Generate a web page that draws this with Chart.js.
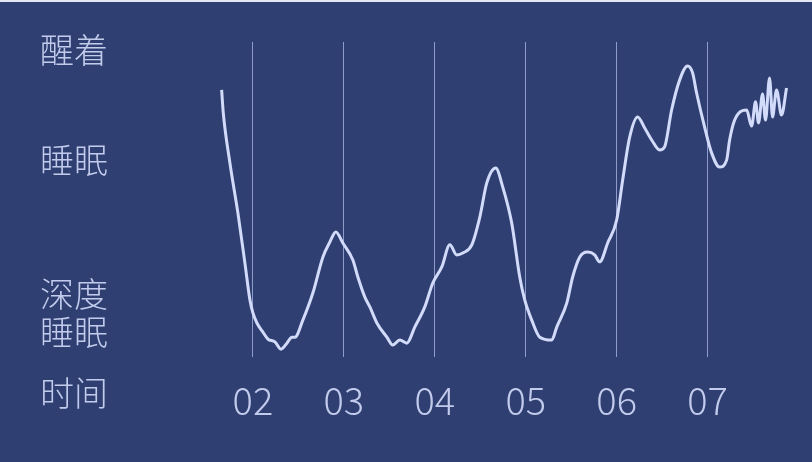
<!DOCTYPE html>
<html>
<head>
<meta charset="utf-8">
<script src="https://cdn.jsdelivr.net/npm/chart.js@4.4.1/dist/chart.umd.min.js"></script>
<style>
  html, body { margin: 0; padding: 0; background: #2f3f72; }
  #wrap { position: relative; width: 812px; height: 462px; }
  #strip { position: absolute; left: 0; top: 0; width: 812px; height: 2px; background: #e4e8f2; }
</style>
</head>
<body>
<div id="wrap">
  <canvas id="sleepChart" width="812" height="462"></canvas>
  <div id="strip"></div>
</div>
<script>
// time in hours (x) and sleep level 0 = deep sleep .. 100 = awake (y)
const hours = [1.656, 1.674, 1.747, 1.835, 1.912, 1.967, 2.0, 2.044, 2.11, 2.165, 2.242, 2.308,
  2.374, 2.429, 2.462,
  2.549, 2.659, 2.769, 2.846, 2.912, 2.989, 3.099, 3.154, 3.231, 3.286, 3.363, 3.473, 3.538,
  3.615, 3.692, 3.78, 3.89, 3.978, 4.077, 4.165, 4.242, 4.308, 4.407, 4.495, 4.571, 4.67,
  4.747, 4.846, 4.934, 4.989, 5.066, 5.154, 5.286, 5.341, 5.451, 5.516, 5.593, 5.681, 5.758,
  5.813, 5.901, 6.0, 6.066, 6.143, 6.231, 6.308, 6.385, 6.473, 6.527, 6.604, 6.692, 6.78,
  6.835, 6.879, 6.967, 7.044, 7.132, 7.209, 7.242, 7.297, 7.429, 7.484, 7.527, 7.56, 7.604,
  7.637, 7.681, 7.714, 7.758, 7.813, 7.868];
const levels = [84.8, 77.5, 61.6, 45.7, 29.8, 18.1, 14.0, 10.8, 7.9, 5.7, 4.8, 2.5,
  4.4, 6.3, 6.3,
  11.7, 20.3, 31.7, 36.5, 39.7, 36.2, 30.8, 25.4, 19.0, 15.9, 10.8, 6.3, 3.8,
  5.4, 4.4, 9.5, 15.9, 23.5, 28.6, 35.6, 32.4, 33.0, 35.6, 44.4, 55.2, 60.0,
  54.0, 42.5, 25.4, 18.1, 11.7, 6.3, 5.4, 9.5, 17.1, 25.4, 31.7, 33.3, 32.4,
  30.2, 36.2, 43.5, 56.2, 69.8, 76.2, 72.7, 68.9, 65.7, 66.7, 78.4, 87.9, 92.4,
  90.2, 83.8, 73.0, 64.8, 60.3, 62.5, 68.9, 75.2, 78.4, 73.3, 81.0, 74.3, 83.5,
  75.2, 88.6, 76.2, 84.8, 76.8, 85.4];

const hourTicks = [2, 3, 4, 5, 6, 7];
const stateTicks = [97.5, 62.5, 14];
const stateLabels = ['醒着', '睡眠', ['深度', '睡眠']];
const axisTitle = '时间';

const textColor = '#c3cbec';
const fontFamily = '"Noto Sans CJK SC", "Noto Sans", sans-serif';

const timeLabel = {
  id: 'timeLabel',
  afterDraw(chart) {
    const c = chart.ctx;
    c.save();
    c.font = '300 34px ' + fontFamily;
    c.fillStyle = textColor;
    c.textAlign = 'left';
    c.textBaseline = 'middle';
    c.fillText(axisTitle, 40, 393);
    c.restore();
  }
};

const ctx = document.getElementById('sleepChart');

new Chart(ctx, {
  type: 'line',
  data: {
    datasets: [{
      data: hours.map((h, i) => ({ x: h, y: levels[i] })),
      borderColor: '#d3dbfa',
      borderWidth: 3,
      pointRadius: 0,
      cubicInterpolationMode: 'monotone',
      fill: false
    }]
  },
  options: {
    responsive: false,
    animation: false,
    layout: { padding: { left: 40, right: 18, top: 42, bottom: 42 } },
    plugins: {
      legend: { display: false },
      tooltip: { enabled: false }
    },
    scales: {
      x: {
        type: 'linear',
        min: 1.55,
        max: 7.95,
        afterBuildTicks: (scale) => { scale.ticks = hourTicks.map(v => ({ value: v })); },
        afterFit: (scale) => { scale.height = 63; },
        ticks: {
          color: textColor,
          font: { family: fontFamily, size: 38, weight: '300' },
          padding: 21,
          maxRotation: 0,
          autoSkip: false,
          callback: (v) => '0' + v
        },
        grid: { color: '#8f9bc9', lineWidth: 1, drawTicks: false },
        border: { display: false }
      },
      y: {
        min: 0,
        max: 100,
        afterBuildTicks: (scale) => { scale.ticks = stateTicks.map(v => ({ value: v })); },
        afterFit: (scale) => { scale.width = 172; },
        ticks: {
          color: textColor,
          crossAlign: 'far',
          padding: 0,
          autoSkip: false,
          font: { family: fontFamily, size: 34, weight: '300', lineHeight: 1.1 },
          callback: (v, i) => stateLabels[i]
        },
        grid: { display: false },
        border: { display: false }
      }
    }
  },
  plugins: [timeLabel]
});
</script>
</body>
</html>
